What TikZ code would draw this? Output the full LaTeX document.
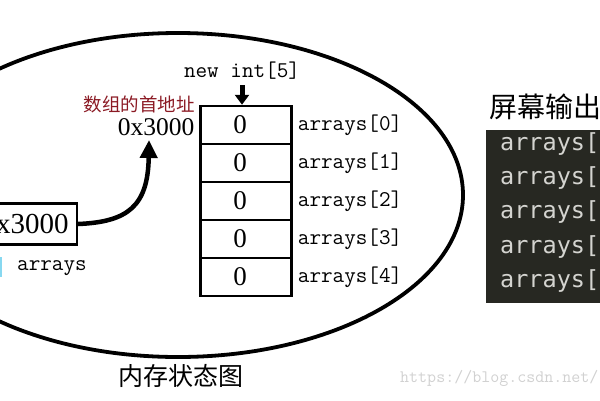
\documentclass[tikz,border=0pt]{standalone}
\usepackage{fontspec}
\setmainfont{Liberation Serif}
\newfontfamily\cjk{Noto Sans CJK SC}
\newfontfamily\scrmono{DejaVu Sans Mono}
\usetikzlibrary{arrows.meta,positioning}
\definecolor{headred}{RGB}{139,26,36}
\definecolor{panelbg}{RGB}{39,40,34}
\definecolor{paneltxt}{RGB}{212,212,208}
\definecolor{barcyan}{RGB}{135,216,240}
\tikzset{
	cell/.style={draw,line width=2.5pt,minimum width=91pt,minimum height=38pt,inner sep=0pt,font=\fontsize{27}{27}\selectfont},
	idx/.style={anchor=west,inner sep=0pt,font=\ttfamily\fontsize{22.5}{23}\selectfont},
	scr/.style={anchor=west,inner sep=0pt,text=paneltxt,font=\scrmono\fontsize{23.5}{24}\selectfont},
	link/.style={line width=4.5pt,-{Triangle[width=17pt,length=18pt]}},
}
\begin{document}
\begin{tikzpicture}[x=1pt,y=-1pt]
	\useasboundingbox (0,0) rectangle (600,400);
	\clip (0,0) rectangle (600,400);
	% memory
	\draw[line width=3.8pt] (178,195) ellipse [x radius=285pt,y radius=162pt];
	\foreach \i in {0,...,4}{
		\node[cell] (c\i) at (246,125+38*\i) {\hspace*{-12pt}0};
		\node[idx] (l\i) at ([xshift=5pt]c\i.east) {arrays[\i]};
	}
	\node[font=\ttfamily\fontsize{22.5}{23}\selectfont] (newint) at (242,71) {new int[5]};
	\draw[line width=5pt,-{Triangle[width=14pt,length=10pt]}] ([yshift=-2pt]newint.south) -- (newint.south |- c0.north);
	\node[text=headred,inner sep=0pt,font=\cjk\fontsize{18.5}{19}\selectfont] (headcap) at (139,104) {数组的首地址};
	\node[inner sep=0pt,font=\fontsize{25.5}{26}\selectfont] (addrval) at (156,127) {0x3000};
	\node[draw,line width=2.5pt,anchor=east,inner xsep=8pt,minimum height=41pt,font=\fontsize{29}{29}\selectfont] (ptr) at (78,224) {0x3000};
	\fill[barcyan] (-2,257) rectangle (2,277);
	\node[idx] (ptrname) at (17,268) {arrays};
	\draw[link] (ptr.east) .. controls (128,222) and (148,206) .. (149,140);
	\node[inner sep=0pt,font=\cjk\fontsize{25}{25}\selectfont] (memcap) at (181,376) {内存状态图};
	% screen
	\node[anchor=west,inner sep=0pt,font=\cjk\fontsize{28}{28}\selectfont] (scrcap) at (489,107) {屏幕输出};
	\fill[panelbg] (486,130) rectangle (610,303);
	\foreach \i/\y in {0/144,1/178,2/212,3/247,4/281}
		\node[scr] (s\i) at (500,\y) {arrays[};
	\node[anchor=west,inner sep=0pt,text=black!18,font=\ttfamily\fontsize{17.5}{18}\selectfont] (mark) at (400,378) {https://blog.csdn.net/};
\end{tikzpicture}
\end{document}
